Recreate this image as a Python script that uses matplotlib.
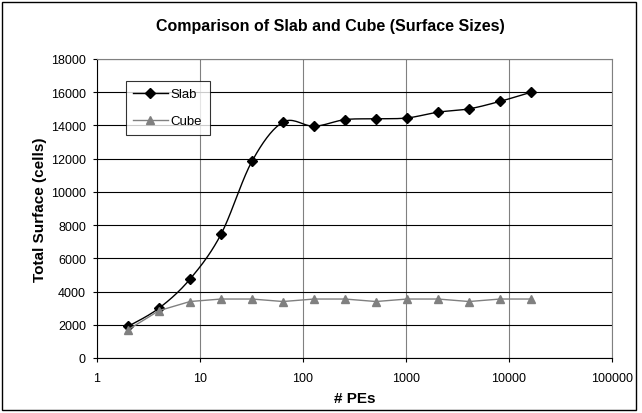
import numpy as np
import matplotlib
matplotlib.use('Agg')
import matplotlib.pyplot as plt
from matplotlib.patches import Rectangle

plt.rcParams['font.family'] = ['Liberation Sans', 'DejaVu Sans']

# datos
pes = [2, 4, 8, 16, 32, 64, 128, 256, 512, 1024, 2048, 4096, 8192, 16384]
slab = [1900, 3000, 4750, 7450, 11850, 14200, 13950, 14350, 14400, 14450, 14800, 15000, 15450, 16000]
cube = [1700, 2850, 3400, 3550, 3550, 3400, 3550, 3550, 3400, 3550, 3550, 3400, 3550, 3550]


def smooth(xs, ys, n=20):
    # curva suavizada tipo Excel (Catmull-Rom en escala log-x)
    u = np.log10(np.array(xs, float)) * 103.0
    v = np.array(ys, float) / 2000.0 * 33.3
    P = np.column_stack([u, v])
    P = np.vstack([P[0], P, P[-1]])
    out = []
    for i in range(1, len(P) - 2):
        p0, p1, p2, p3 = P[i - 1], P[i], P[i + 1], P[i + 2]
        c1 = p1 + (p2 - p0) / 6.0
        c2 = p2 - (p3 - p1) / 6.0
        t = np.linspace(0, 1, n)[:, None]
        seg = (1 - t)**3 * p1 + 3 * (1 - t)**2 * t * c1 + 3 * (1 - t) * t**2 * c2 + t**3 * p2
        out.append(seg if i == 1 else seg[1:])
    out = np.vstack(out)
    return 10**(out[:, 0] / 103.0), out[:, 1] / 33.3 * 2000.0


fig = plt.figure(figsize=(6.42, 4.14), dpi=100)
fig.patches.append(Rectangle((2 / 642, 3 / 414), 634 / 642, 408 / 414, transform=fig.transFigure,
                             fill=False, edgecolor='black', linewidth=1.0))

ax = fig.add_axes([97 / 642, 1 - 359 / 414, (612 - 97) / 642, (359 - 60) / 414])
ax.set_xscale('log')
ax.set_xlim(1, 100000)
ax.set_ylim(0, 18000)

ax.set_yticks(np.arange(0, 18001, 2000))
ax.set_xticks([1, 10, 100, 1000, 10000, 100000])
ax.set_xticklabels(['1', '10', '100', '1000', '10000', '100000'])
ax.minorticks_off()
ax.tick_params(axis='both', labelsize=9, length=3, width=0.8, direction='out')
ax.tick_params(axis='x', pad=7)
ax.tick_params(axis='y', pad=5)

ax.grid(axis='y', color='black', linewidth=0.8)
ax.grid(axis='x', color='#808080', linewidth=0.8)
ax.set_axisbelow(True)
for s in ['top', 'right']:
    ax.spines[s].set_color('#808080')
for s in ['left', 'bottom']:
    ax.spines[s].set_color('black')

sx, sy = smooth(pes, slab)
ax.plot(sx, sy, color='black', linewidth=1.0)
ax.plot(pes, slab, linestyle='none', marker='D', markersize=5, color='black')
ax.plot(pes, cube, color='#808080', linewidth=1.0, marker='^', markersize=6)

# leyenda
ax.plot([], [], color='black', linewidth=1.0, marker='D', markersize=5, label='Slab')
ax.plot([], [], color='#808080', linewidth=1.0, marker='^', markersize=6, label='Cube')
h, l = ax.get_legend_handles_labels()
leg = ax.legend(h[-2:], l[-2:], loc='upper left', bbox_to_anchor=(29 / 515, 277 / 299),
                fontsize=9.5, frameon=True, fancybox=False, edgecolor='black',
                borderpad=0.55, labelspacing=1.1, handlelength=2.6, handletextpad=0.25,
                borderaxespad=0)
leg.get_frame().set_linewidth(0.8)

fig.text(330 / 642, 1 - 27 / 414, 'Comparison of Slab and Cube (Surface Sizes)', fontsize=11.5,
         fontweight='bold', ha='center', va='center')
ax.set_xlabel('# PEs', fontsize=11, fontweight='bold', labelpad=5)
ax.set_ylabel('Total Surface (cells)', fontsize=11, fontweight='bold', labelpad=3)

fig.savefig('out.png', dpi=100)
